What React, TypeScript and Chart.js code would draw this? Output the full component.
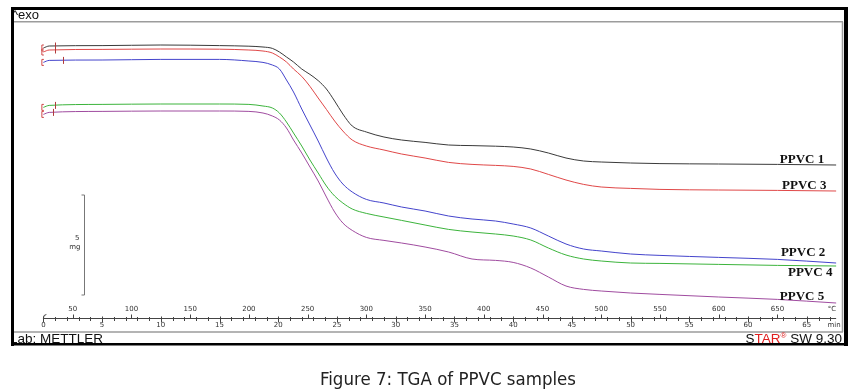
import React, { useEffect, useRef } from 'react';
import { Chart, registerables } from 'chart.js';

Chart.register(...registerables);

// Temperature (°C) at which the curves were read
const temperatures = [25, 30, 75, 125, 175, 200, 212, 220, 226, 232, 238, 245, 252, 259, 266, 273, 280, 288, 300, 315, 330, 350, 370, 390, 410, 425, 440, 455, 470, 485, 500, 525, 550, 600, 650, 700];

// Sample mass (mg, offset curves as plotted)
const ppvc1 = [14.10, 14.20, 14.22, 14.25, 14.22, 14.19, 14.15, 14.08, 13.90, 13.65, 13.40, 13.05, 12.78, 12.47, 12.05, 11.45, 10.80, 10.20, 9.90, 9.65, 9.50, 9.38, 9.25, 9.22, 9.19, 9.15, 9.05, 8.85, 8.60, 8.45, 8.40, 8.35, 8.32, 8.30, 8.28, 8.25];
const ppvc3 = [13.90, 14.00, 14.03, 14.05, 14.04, 14.00, 13.95, 13.85, 13.65, 13.40, 13.05, 12.68, 12.18, 11.60, 11.03, 10.45, 9.95, 9.50, 9.20, 9.00, 8.80, 8.60, 8.38, 8.28, 8.23, 8.18, 8.05, 7.78, 7.50, 7.28, 7.15, 7.08, 7.03, 7.00, 6.98, 6.95];
const ppvc2 = [13.38, 13.48, 13.50, 13.53, 13.53, 13.45, 13.38, 13.25, 13.05, 12.50, 11.90, 11.05, 10.25, 9.45, 8.60, 7.85, 7.30, 6.90, 6.53, 6.35, 6.15, 5.95, 5.70, 5.55, 5.45, 5.30, 5.10, 4.70, 4.30, 4.05, 3.95, 3.80, 3.73, 3.63, 3.53, 3.35];
const ppvc4 = [11.13, 11.23, 11.28, 11.30, 11.30, 11.28, 11.20, 11.10, 10.85, 10.40, 9.85, 9.20, 8.50, 7.85, 7.20, 6.70, 6.35, 6.05, 5.83, 5.65, 5.48, 5.25, 5.03, 4.90, 4.80, 4.70, 4.50, 4.10, 3.75, 3.55, 3.45, 3.35, 3.33, 3.28, 3.23, 3.20];
const ppvc5 = [10.78, 10.88, 10.93, 10.95, 10.95, 10.93, 10.85, 10.70, 10.50, 10.10, 9.50, 8.85, 8.15, 7.45, 6.65, 5.90, 5.35, 4.98, 4.63, 4.48, 4.35, 4.15, 3.90, 3.55, 3.48, 3.38, 3.10, 2.65, 2.20, 2.03, 1.95, 1.85, 1.78, 1.65, 1.53, 1.35];

const seriesNames = ['PPVC 1', 'PPVC 3', 'PPVC 2', 'PPVC 4', 'PPVC 5'];
const seriesValues = [ppvc1, ppvc3, ppvc2, ppvc4, ppvc5];
const seriesColors = ['#3a3a3a', '#e04848', '#4444cc', '#3cb43c', '#a04ca0'];
// label anchors [°C, mg]
const labelAnchors: [number, number][] = [[652, 8.35], [654, 7.05], [653, 3.7], [659, 2.72], [652, 1.52]];
const startTickTemps = [35, 35, 42, 35, 33];

// Ruler
const startTemp = 25; // °C at t = 0
const heatingRate = 10; // K/min
const minuteTicks = [0, 5, 10, 15, 20, 25, 30, 35, 40, 45, 50, 55, 60, 65];
const temperatureTicks = [50, 100, 150, 200, 250, 300, 350, 400, 450, 500, 550, 600, 650];
const lastMinute = 67;
const scaleBarMg = 5;

const SANS = '"Liberation Sans", Arial, sans-serif';

const decorPlugin = {
  id: 'decor',
  beforeDraw(chart: any) {
    const ctx = chart.ctx;
    ctx.save();
    ctx.fillStyle = '#ffffff';
    ctx.fillRect(0, 0, chart.width, chart.height);
    ctx.restore();
  },
  afterDraw(chart: any) {
    const ctx: CanvasRenderingContext2D = chart.ctx;
    const xs = chart.scales.x;
    const ys = chart.scales.y;
    const px = (t: number) => xs.getPixelForValue(t);
    const py = (m: number) => ys.getPixelForValue(m);
    const tempOfMin = (m: number) => startTemp + heatingRate * m;

    ctx.save();
    // inner gray frame lines
    ctx.strokeStyle = '#9c9c9c';
    ctx.lineWidth = 1.5;
    ctx.beginPath();
    ctx.moveTo(14, 21.75); ctx.lineTo(843, 21.75);
    ctx.moveTo(842.5, 21.75); ctx.lineTo(842.5, 332);
    ctx.moveTo(14, 332); ctx.lineTo(843, 332);
    ctx.stroke();

    // header / footer text
    ctx.fillStyle = '#111';
    ctx.textBaseline = 'alphabetic';
    ctx.textAlign = 'left';
    ctx.font = `13px ${SANS}`;
    ctx.fillText('^exo', 12, 19);
    ctx.font = `13.5px ${SANS}`;
    ctx.fillText('Lab: METTLER', 10, 343);

    // STAR® SW 9.30 (right aligned at 842)
    ctx.font = `13.5px ${SANS}`;
    const wS = ctx.measureText('S').width;
    const wTAR = ctx.measureText('TAR').width;
    const wRest = ctx.measureText(' SW 9.30').width;
    ctx.font = `8px ${SANS}`;
    const wR = ctx.measureText('®').width;
    let cx = 842 - (wS + wTAR + wR + wRest);
    ctx.font = `13.5px ${SANS}`;
    ctx.fillStyle = '#111';
    ctx.fillText('S', cx, 343); cx += wS;
    ctx.fillStyle = '#e02020';
    ctx.fillText('TAR', cx, 343); cx += wTAR;
    ctx.font = `8px ${SANS}`;
    ctx.fillText('®', cx, 338); cx += wR;
    ctx.font = `13.5px ${SANS}`;
    ctx.fillStyle = '#111';
    ctx.fillText(' SW 9.30', cx, 343);

    // thick black border
    ctx.fillStyle = '#000';
    ctx.fillRect(11, 7, 837, 3);
    ctx.fillRect(11, 7, 3, 339);
    ctx.fillRect(844, 7, 4, 339);
    ctx.fillRect(11, 343, 837, 2.5);

    // ruler
    const rulerY = 318.5;
    ctx.strokeStyle = '#444';
    ctx.lineWidth = 1;
    ctx.beginPath();
    ctx.moveTo(px(tempOfMin(0)), rulerY);
    ctx.lineTo(px(tempOfMin(lastMinute + 0.5)), rulerY);
    for (let k = 0; k <= lastMinute; k++) {
      const X = Math.round(px(tempOfMin(k))) + 0.5;
      const major = k % 5 === 0;
      ctx.moveTo(X, rulerY - (major ? 2 : 1.5));
      ctx.lineTo(X, rulerY + (major ? 4 : 2.5));
    }
    temperatureTicks.forEach((T) => {
      const X = Math.round(px(T)) + 0.5;
      ctx.moveTo(X, rulerY - 4);
      ctx.lineTo(X, rulerY);
    });
    ctx.stroke();
    // small start hook
    const x0 = px(tempOfMin(0));
    ctx.beginPath();
    ctx.moveTo(x0, rulerY);
    ctx.quadraticCurveTo(x0, rulerY - 4, x0 + 3, rulerY - 4);
    ctx.stroke();

    ctx.fillStyle = '#333';
    ctx.font = `7px "DejaVu Sans", sans-serif`;
    ctx.textAlign = 'center';
    ctx.textBaseline = 'middle';
    temperatureTicks.forEach((T) => ctx.fillText(String(T), px(T), 309));
    minuteTicks.forEach((m) => ctx.fillText(String(m), px(tempOfMin(m)), 325.5));
    ctx.fillText('°C', 832, 309);
    ctx.fillText('min', 834, 325.5);

    // 5 mg scale bar
    const barX = Math.round(px(60)) + 0.5;
    const barTop = py(6.75);
    const barBot = py(6.75 - scaleBarMg);
    ctx.strokeStyle = '#777';
    ctx.beginPath();
    ctx.moveTo(barX - 3, barTop); ctx.lineTo(barX, barTop);
    ctx.lineTo(barX, barBot); ctx.lineTo(barX - 3, barBot);
    ctx.stroke();
    ctx.fillStyle = '#333';
    ctx.textAlign = 'right';
    ctx.font = `7px "DejaVu Sans", sans-serif`;
    ctx.fillText(String(scaleBarMg), barX - 5, py(4.6));
    ctx.fillText('mg', barX - 4, py(4.15));

    // start markers
    seriesValues.forEach((vals, i) => {
      const sx = px(temperatures[0]) - 1.5;
      const sy = py(vals[0]);
      ctx.strokeStyle = '#d04848';
      ctx.lineWidth = 1;
      ctx.beginPath();
      ctx.moveTo(sx + 2, sy - 3); ctx.lineTo(sx, sy - 3);
      ctx.lineTo(sx, sy + 3); ctx.lineTo(sx + 2, sy + 3);
      ctx.stroke();
      const tx = Math.round(px(startTickTemps[i])) + 0.5;
      const ty = py(vals[1]);
      ctx.strokeStyle = '#b03a3a';
      ctx.beginPath();
      ctx.moveTo(tx, ty - 3.5); ctx.lineTo(tx, ty + 3.5);
      ctx.stroke();
    });

    // curve labels
    ctx.fillStyle = '#111';
    ctx.textAlign = 'left';
    ctx.textBaseline = 'alphabetic';
    ctx.font = `bold 13px "Liberation Serif", "Times New Roman", serif`;
    seriesNames.forEach((name, i) => {
      const [T, m] = labelAnchors[i];
      ctx.fillText(name, px(T), py(m));
    });

    // caption
    const caption = 'Figure 7: TGA of PPVC samples';
    ctx.font = `17px "Liberation Sans Narrow", "DejaVu Sans Condensed", "DejaVu Sans", sans-serif`;
    const w = ctx.measureText(caption).width;
    const targetW = 256;
    ctx.save();
    ctx.translate(320, 384.5);
    ctx.scale(targetW / w, 1);
    ctx.fillStyle = '#222';
    ctx.fillText(caption, 0, 0);
    ctx.restore();

    ctx.restore();
  },
};

export default function App() {
  const canvasRef = useRef<HTMLCanvasElement | null>(null);

  useEffect(() => {
    const canvas = canvasRef.current;
    if (!canvas) return;
    const chart = new Chart(canvas, {
      type: 'line',
      data: {
        datasets: seriesValues.map((vals, i) => ({
          label: seriesNames[i],
          data: temperatures.map((T, j) => ({ x: T, y: vals[j] })),
          borderColor: seriesColors[i],
          backgroundColor: seriesColors[i],
          borderWidth: 1,
          pointRadius: 0,
          cubicInterpolationMode: 'monotone' as const,
          fill: false,
        })),
      },
      options: {
        responsive: false,
        animation: false,
        devicePixelRatio: 1,
        layout: { padding: { left: 14, right: 13, top: 22, bottom: 61 } },
        plugins: { legend: { display: false }, title: { display: false }, tooltip: { enabled: false } },
        events: [],
        scales: {
          x: { type: 'linear', min: 0, max: 705, display: false },
          y: { type: 'linear', min: 0, max: 15.4, display: false },
        },
      },
      plugins: [decorPlugin],
    });
    return () => chart.destroy();
  }, []);

  return (
    <div style={{ position: 'absolute', left: 0, top: 0, width: 855, height: 391 }}>
      <canvas ref={canvasRef} width={855} height={391} style={{ display: 'block', width: 855, height: 391 }} />
    </div>
  );
}
